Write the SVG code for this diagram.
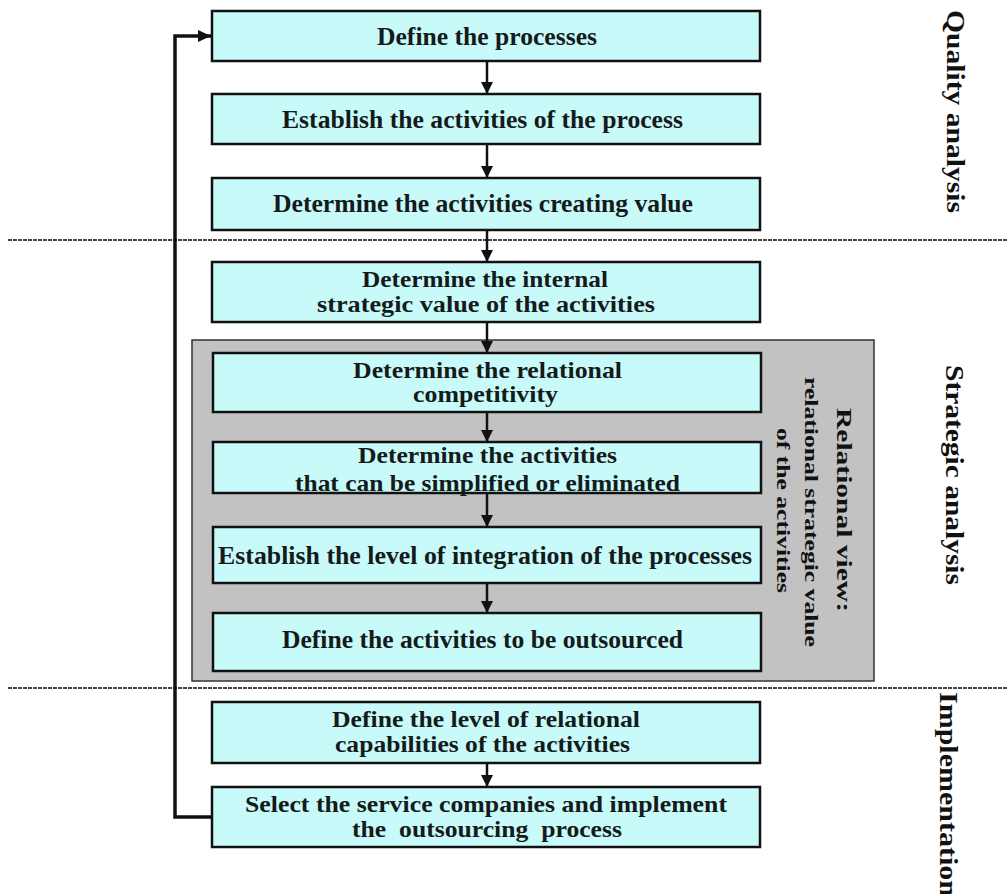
<svg xmlns="http://www.w3.org/2000/svg" width="1007" height="894" viewBox="0 0 1007 894">
<style>
.box{fill:#c8fafa;stroke:#111;stroke-width:2.5}
.grp{fill:#c2c2c2;stroke:#333;stroke-width:1.5}
.t{font-weight:bold;fill:#151a1a;white-space:pre}
.t1{font-size:26px}
.t2{font-size:23px}
.side{font-weight:bold;fill:#111;font-size:26px}
.rv{font-weight:bold;fill:#111}
.sep{stroke:#444;stroke-width:2;stroke-dasharray:4 1;fill:none}
.arr{stroke:#111;stroke-width:2.5;fill:none;marker-end:url(#ah)}
.fb{stroke:#111;stroke-width:3.5;fill:none;marker-end:url(#ah2)}
</style>
<defs>
<marker id="ah" markerUnits="userSpaceOnUse" markerWidth="12" markerHeight="13" refX="12" refY="6" orient="auto"><path d="M0,0 L12,6 L0,12 z" fill="#111"/></marker>
<marker id="ah2" markerUnits="userSpaceOnUse" markerWidth="14" markerHeight="13" refX="13" refY="6" orient="auto"><path d="M0,0 L13,6 L0,12 z" fill="#111"/></marker>
</defs>
<rect width="1007" height="894" fill="#fff"/>
<g id="separators">
<line class="sep" x1="8" y1="240" x2="1007" y2="240"/>
<line class="sep" x1="8" y1="688" x2="1007" y2="688"/>
</g>
<g font-family="'Liberation Serif', Tinos, 'Times New Roman', serif">
<g id="relational-view">
<rect class="grp" x="192" y="340" width="682" height="341"/>
<g transform="translate(837,408) rotate(90)"><text class="rv" font-size="22" textLength="204" lengthAdjust="spacingAndGlyphs">Relational view:</text></g>
<g transform="translate(805,377) rotate(90)"><text class="rv" font-size="18" textLength="270" lengthAdjust="spacingAndGlyphs">relational strategic value</text></g>
<g transform="translate(777,428) rotate(90)"><text class="rv" font-size="18" textLength="165" lengthAdjust="spacingAndGlyphs">of the activities</text></g>
</g>
<g id="connectors">
<line class="arr" x1="487" y1="61" x2="487" y2="94"/>
<line class="arr" x1="487" y1="144" x2="487" y2="178"/>
<line class="arr" x1="487" y1="230" x2="487" y2="262"/>
<line class="arr" x1="487" y1="322" x2="487" y2="353"/>
<line class="arr" x1="487" y1="412" x2="487" y2="442"/>
<line class="arr" x1="487" y1="493" x2="487" y2="527"/>
<line class="arr" x1="487" y1="583" x2="487" y2="613"/>
<line class="arr" x1="487" y1="763" x2="487" y2="787"/>
<polyline class="fb" points="212,817 175,817 175,36 211,36"/>
</g>
<g id="n1"><rect class="box" x="212" y="11" width="548" height="50"/><text class="t t1" x="377" y="45" textLength="220" lengthAdjust="spacingAndGlyphs">Define the processes</text></g>
<g id="n2"><rect class="box" x="212" y="94" width="548" height="50"/><text class="t t1" x="282" y="128" textLength="401" lengthAdjust="spacingAndGlyphs">Establish the activities of the process</text></g>
<g id="n3"><rect class="box" x="212" y="178" width="548" height="52"/><text class="t t1" x="273" y="212" textLength="420" lengthAdjust="spacingAndGlyphs">Determine the activities creating value</text></g>
<g id="n4"><rect class="box" x="212" y="262" width="548" height="60"/><text class="t t2" x="362" y="287" textLength="246" lengthAdjust="spacingAndGlyphs">Determine the internal</text><text class="t t2" x="317" y="312" textLength="338" lengthAdjust="spacingAndGlyphs">strategic value of the activities</text></g>
<g id="n5"><rect class="box" x="213" y="353" width="548" height="59"/><text class="t t2" x="353" y="378" textLength="269" lengthAdjust="spacingAndGlyphs">Determine the relational</text><text class="t t2" x="413" y="402" textLength="145" lengthAdjust="spacingAndGlyphs">competitivity</text></g>
<g id="n6"><rect class="box" x="213" y="442" width="548" height="51"/><text class="t t2" x="358" y="463" textLength="259" lengthAdjust="spacingAndGlyphs">Determine the activities</text><text class="t t2" x="295" y="491" textLength="385" lengthAdjust="spacingAndGlyphs">that can be simplified or eliminated</text></g>
<g id="n7"><rect class="box" x="213" y="527" width="548" height="56"/><text class="t t1" x="218" y="564" textLength="534" lengthAdjust="spacingAndGlyphs">Establish the level of integration of the processes</text></g>
<g id="n8"><rect class="box" x="213" y="613" width="548" height="58"/><text class="t t1" x="282" y="648" textLength="401" lengthAdjust="spacingAndGlyphs">Define the activities to be outsourced</text></g>
<g id="n9"><rect class="box" x="212" y="702" width="548" height="61"/><text class="t t2" x="332" y="727" textLength="308" lengthAdjust="spacingAndGlyphs">Define the level of relational</text><text class="t t2" x="335" y="752" textLength="295" lengthAdjust="spacingAndGlyphs">capabilities of the activities</text></g>
<g id="n10"><rect class="box" x="212" y="787" width="548" height="60"/><text class="t t2" x="245" y="812" textLength="482" lengthAdjust="spacingAndGlyphs">Select the service companies and implement</text><text class="t t2" x="352" y="837" textLength="270" lengthAdjust="spacingAndGlyphs">the  outsourcing  process</text></g>
<g id="phase-labels">
<g transform="translate(947,10) rotate(90)"><text class="side" textLength="203" lengthAdjust="spacingAndGlyphs">Quality analysis</text></g>
<g transform="translate(946,365) rotate(90)"><text class="side" textLength="220" lengthAdjust="spacingAndGlyphs">Strategic analysis</text></g>
<g transform="translate(940,692) rotate(90)"><text class="side" textLength="205" lengthAdjust="spacingAndGlyphs">Implementation</text></g>
</g>
</g>
</svg>
